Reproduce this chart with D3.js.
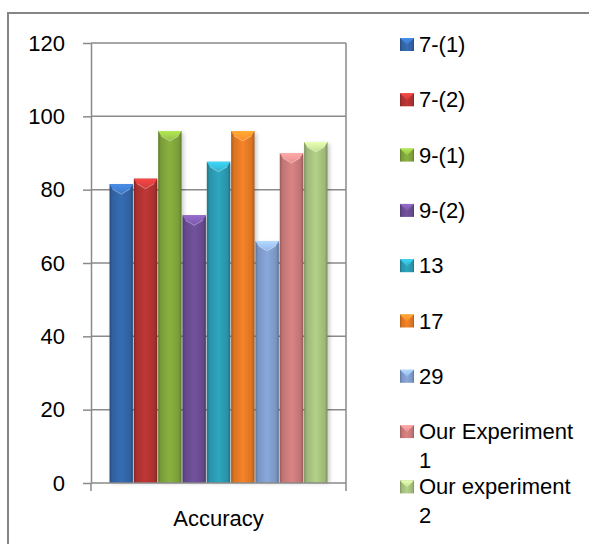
<!DOCTYPE html>
<html>
<head>
<meta charset="utf-8">
<script src="https://cdn.jsdelivr.net/npm/d3@7"></script>
<style>
  body { margin: 0; background: #fff; }
  svg { display: block; }
  text { font-family: "Liberation Sans", Arial, sans-serif; fill: #000; }
</style>
</head>
<body>
<svg id="chart" width="589" height="544"></svg>
<script>
// Data
const categories = ["Accuracy"];
const seriesNames = ["7-(1)", "7-(2)", "9-(1)", "9-(2)", "13", "17", "29", "Our Experiment 1", "Our experiment 2"];
const legendLines = [["7-(1)"], ["7-(2)"], ["9-(1)"], ["9-(2)"], ["13"], ["17"], ["29"], ["Our Experiment", "1"], ["Our experiment", "2"]];
const accuracy = [81.5, 83, 96, 73, 87.6, 96, 66, 90, 93];
const seriesColors = ["#3467ab", "#b53433", "#82a93d", "#6c4e95", "#2c9db5", "#e97c25", "#829fd0", "#cf7d7d", "#aac681"];
const yTicks = [0, 20, 40, 60, 80, 100, 120];

const svg = d3.select("#chart");
const W = 589, H = 544;
const plot = { left: 91, right: 346, top: 43, bottom: 483 };
const gridColor = "#8a8a8a";

// Chart frame
svg.append("rect")
  .attr("x", 8).attr("y", 13)
  .attr("width", W).attr("height", H)
  .attr("fill", "none").attr("stroke", "#868686").attr("stroke-width", 2);

const y = d3.scaleLinear().domain([0, 120]).range([plot.bottom, plot.top]);
const x0 = d3.scaleBand().domain(categories).range([plot.left, plot.right])
  .paddingInner(0).paddingOuter(0.085);
const x1 = d3.scaleBand().domain(seriesNames).range([0, x0.bandwidth()]).paddingInner(0.04);

const defs = svg.append("defs");
seriesColors.forEach((c, i) => {
  const base = d3.color(c);
  const g = defs.append("linearGradient").attr("id", "bar" + i)
    .attr("x1", "0%").attr("x2", "100%").attr("y1", "0%").attr("y2", "0%");
  [[0, base.darker(0.9)], [0.12, base.darker(0.2)], [0.5, base.brighter(0.15)], [0.88, base.darker(0.2)], [1, base.darker(0.9)]]
    .forEach(([o, col]) => g.append("stop").attr("offset", o).attr("stop-color", col));
  const t = defs.append("linearGradient").attr("id", "cap" + i)
    .attr("x1", "0%").attr("x2", "0%").attr("y1", "0%").attr("y2", "100%");
  t.append("stop").attr("offset", 0).attr("stop-color", base.brighter(0.9));
  t.append("stop").attr("offset", 1).attr("stop-color", base.brighter(0.35));
});
const shadow = defs.append("filter").attr("id", "shadow")
  .attr("x", "-20%").attr("y", "-5%").attr("width", "160%").attr("height", "110%");
shadow.append("feGaussianBlur").attr("stdDeviation", 2);

// Horizontal gridlines
svg.append("g").selectAll("line").data(yTicks.filter(d => d > 0)).join("line")
  .attr("x1", plot.left).attr("x2", plot.right)
  .attr("y1", d => y(d)).attr("y2", d => y(d))
  .attr("stroke", gridColor).attr("stroke-width", 1.5);

// Vertical gridline at the category boundary
svg.append("line")
  .attr("x1", plot.right).attr("x2", plot.right)
  .attr("y1", plot.top).attr("y2", plot.bottom)
  .attr("stroke", gridColor).attr("stroke-width", 1.5);

// Bars
const barG = svg.append("g").attr("transform", `translate(${x0(categories[0])},0)`);
const bars = barG.selectAll("g").data(accuracy).join("g");
bars.append("rect")
  .attr("x", (d, i) => x1(seriesNames[i]) + 2)
  .attr("y", d => y(d) + 2)
  .attr("width", x1.bandwidth())
  .attr("height", d => y(0) - y(d) - 2)
  .attr("fill", "#000").attr("opacity", 0.22)
  .attr("filter", "url(#shadow)");
bars.append("rect")
  .attr("x", (d, i) => x1(seriesNames[i]))
  .attr("y", d => y(d))
  .attr("width", x1.bandwidth())
  .attr("height", d => y(0) - y(d))
  .attr("fill", (d, i) => `url(#bar${i})`);
bars.append("path")
  .attr("d", (d, i) => {
    const xa = x1(seriesNames[i]), xb = xa + x1.bandwidth(), xm = (xa + xb) / 2, yt = y(d);
    return `M${xa},${yt}L${xb},${yt}L${xb - 3},${yt + 5}L${xm},${yt + 10}L${xa + 3},${yt + 5}Z`;
  })
  .attr("fill", (d, i) => `url(#cap${i})`);
bars.append("path")
  .attr("d", (d, i) => {
    const xa = x1(seriesNames[i]), xb = xa + x1.bandwidth(), xm = (xa + xb) / 2, yt = y(d);
    return `M${xa + 3},${yt + 5}L${xm},${yt + 10}L${xb - 3},${yt + 5}`;
  })
  .attr("fill", "none").attr("stroke", "#fff").attr("stroke-opacity", 0.35).attr("stroke-width", 1);

// Value axis
const yAxis = svg.append("g").attr("transform", `translate(${plot.left},0)`)
  .call(d3.axisLeft(y).tickValues(yTicks).tickSize(8).tickPadding(18).tickSizeOuter(0));
yAxis.select(".domain").attr("stroke", gridColor).attr("stroke-width", 1.5);
yAxis.selectAll(".tick line").attr("stroke", gridColor).attr("stroke-width", 1.5);
yAxis.selectAll(".tick text").attr("font-size", 22).attr("font-family", "Liberation Sans, Arial, sans-serif").attr("fill", "#000");

// Category axis
svg.append("line")
  .attr("x1", plot.left).attr("x2", plot.right)
  .attr("y1", plot.bottom).attr("y2", plot.bottom)
  .attr("stroke", gridColor).attr("stroke-width", 1.5);
svg.append("g").selectAll("line").data(x0.range()).join("line")
  .attr("x1", d => d).attr("x2", d => d)
  .attr("y1", plot.bottom).attr("y2", plot.bottom + 8)
  .attr("stroke", gridColor).attr("stroke-width", 1.5);
svg.append("g").selectAll("text").data(categories).join("text")
  .attr("x", d => x0(d) + x0.bandwidth() / 2)
  .attr("y", 526)
  .attr("text-anchor", "middle")
  .attr("font-size", 22)
  .text(d => d);

// Legend
const legend = svg.append("g").attr("transform", "translate(400,38)");
const legendStep = 55.3;
const items = legend.selectAll("g").data(seriesNames).join("g")
  .attr("transform", (d, i) => `translate(0,${i * legendStep})`);
items.append("rect")
  .attr("width", 14).attr("height", 13)
  .attr("fill", (d, i) => `url(#bar${i})`);
items.append("path")
  .attr("d", "M0,0L14,0L11,3L7,7L3,3Z")
  .attr("fill", (d, i) => `url(#cap${i})`);
items.append("text")
  .attr("x", 19)
  .attr("font-size", 22)
  .selectAll("tspan")
  .data((d, i) => legendLines[i])
  .join("tspan")
  .attr("x", 19)
  .attr("y", (d, j) => 14 + j * 28.7)
  .text(d => d);
</script>
</body>
</html>
